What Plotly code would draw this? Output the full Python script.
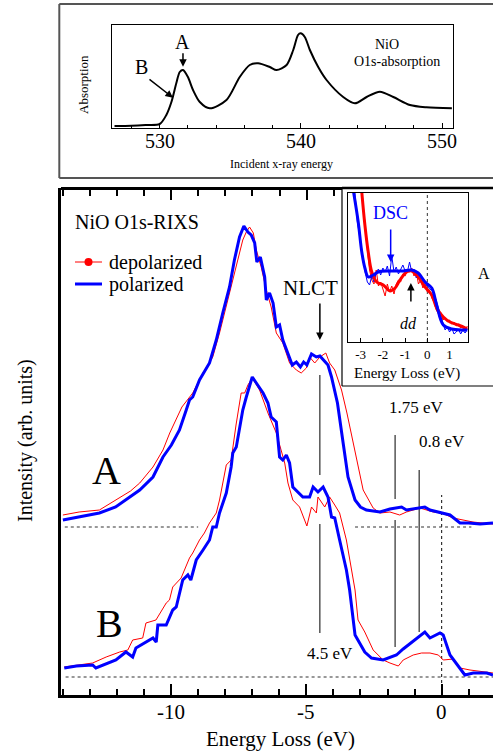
import plotly.graph_objects as go

W, H = 493, 753
FONT = "Liberation Serif"

def px(x):
    return x / W

def py(y):
    return 1 - y / H

# ---------------- data: O1s absorption (top panel) ----------------
abs_energy = [526.8, 528.0, 529.0, 530.0, 530.47, 530.83, 531.18, 531.42, 531.65, 532.0,
              532.36, 532.84, 533.55, 534.73, 535.67, 536.38, 536.97, 537.8, 538.28, 538.99,
              539.46, 539.8, 539.98, 540.28, 540.64, 541.23, 541.82, 543.0, 543.83, 544.66,
              545.6, 546.55, 547.73, 548.9, 550.7]
abs_signal = [2, 2.3, 3, 4, 13, 26, 45, 56, 58, 51,
              38, 26, 19.7, 28, 51, 63, 64.7, 61, 58, 63,
              78, 93, 94.7, 91, 78, 61, 48, 31, 24.7, 31,
              36.3, 31, 23, 20.7, 19.7]
abs_tick_vals = [530, 540, 550]
abs_tick_text = ["530", "540", "550"]

# ---------------- data: RIXS spectrum A ----------------
A_pol_x = [-14.0, -13.4, -12.65, -12.05, -11.6, -11.16, -10.67, -10.3, -9.99, -9.69,
           -9.44, -9.32, -9.2, -8.95, -8.58, -8.33, -8.09, -7.84, -7.66, -7.47,
           -7.31, -7.16, -7.04, -6.91, -6.83, -6.70, -6.54, -6.48, -6.36, -6.23,
           -6.11, -5.99, -5.87, -5.68, -5.52, -5.37, -5.22, -5.1, -4.98, -4.81,
           -4.63, -4.5, -4.38, -4.2, -4.07, -3.95, -3.85, -3.64, -3.46, -3.2,
           -3.0, -2.78, -2.28, -1.91, -1.67, -1.48, -1.3, -0.8, -0.62, -0.43,
           0.0, 0.31, 0.68, 1.0, 1.42, 1.9]
A_pol_y = [175, 178, 182, 188, 197, 205, 218, 238, 250, 265,
           285, 295, 298, 315, 332, 355, 382, 408, 435, 458,
           469, 463, 460, 452, 433, 438, 418, 395, 402, 392,
           368, 370, 355, 342, 330, 333, 328, 333, 330, 341,
           338, 339, 335, 330, 318, 305, 292, 252, 218, 195,
           188, 185, 183, 186, 187, 188, 185, 187, 188, 185,
           182, 180, 172, 172, 171, 172]
A_dep_x = [-14.0, -13.4, -12.65, -11.9, -11.5, -11.16, -10.67, -10.3, -10.05, -9.6,
           -9.32, -9.2, -8.82, -8.46, -8.21, -7.84, -7.59, -7.35, -7.22, -7.1,
           -6.96, -6.85, -6.67, -6.48, -6.3, -6.11, -5.87, -5.62, -5.37, -5.19,
           -5.0, -4.88, -4.69, -4.5, -4.28, -4.14, -3.95, -3.83, -3.7, -3.5,
           -3.2, -2.9, -2.53, -2.28, -1.91, -1.55, -1.3, -0.8, -0.31, 0.0,
           0.43, 0.8, 1.16, 1.5, 1.9]
A_dep_y = [180, 183, 185, 197, 204, 212, 228, 245, 262, 288,
           298, 302, 322, 338, 362, 402, 428, 455, 463, 468,
           462, 445, 428, 405, 388, 362, 352, 332, 325, 322,
           327, 338, 332, 338, 342, 332, 325, 315, 305, 282,
           242, 205, 187, 182, 183, 180, 183, 187, 183, 182,
           177, 175, 173, 172, 171]

# ---------------- data: RIXS spectrum B ----------------
B_pol_x = [-13.95, -13.5, -12.9, -12.78, -12.04, -11.67, -11.42, -11.3, -10.67, -10.55,
           -10.49, -10.18, -9.94, -9.81, -9.57, -9.38, -9.27, -9.07, -8.82, -8.58,
           -8.46, -8.33, -8.21, -7.96, -7.78, -7.72, -7.59, -7.47, -7.35, -7.22,
           -7.0, -6.85, -6.6, -6.42, -6.3, -6.11, -5.99, -5.87, -5.74, -5.62,
           -5.5, -5.13, -4.88, -4.75, -4.57, -4.38, -4.2, -4.07, -3.95, -3.77,
           -3.52, -3.4, -3.2, -2.84, -2.59, -2.16, -1.67, -1.42, -0.93, -0.62,
           -0.43, -0.06, 0.06, 0.31, 0.86, 1.17, 1.67, 1.9]
B_pol_y = [27, 29, 30, 27, 35, 43, 38, 47, 57, 53,
           70, 70, 85, 88, 115, 120, 115, 135, 145, 155,
           168, 168, 182, 202, 228, 242, 248, 268, 285, 298,
           318, 312, 302, 292, 278, 273, 238, 235, 240, 232,
           208, 198, 198, 208, 203, 208, 198, 178, 177, 155,
           125, 105, 60, 43, 37, 35, 40, 46, 57, 63,
           57, 62, 60, 40, 20, 22, 22, 20]
B_dep_x = [-13.95, -12.9, -12.4, -11.9, -11.6, -11.42, -11.05, -10.93, -10.56, -10.18,
           -10.06, -9.94, -9.63, -9.32, -9.2, -8.95, -8.77, -8.58, -8.33, -8.21,
           -7.96, -7.78, -7.6, -7.41, -7.28, -7.16, -7.0, -6.73, -6.42, -6.11,
           -5.8, -5.68, -5.5, -5.25, -4.98, -4.81, -4.63, -4.57, -4.32, -4.14,
           -3.95, -3.77, -3.52, -3.4, -3.2, -3.09, -2.84, -2.53, -2.16, -1.91,
           -1.6, -1.42, -1.05, -0.74, -0.43, -0.12, 0.06, 0.43, 0.68, 1.05,
           1.67, 1.9]
B_dep_y = [28, 32, 38, 43, 45, 55, 57, 72, 75, 92,
           95, 108, 117, 137, 142, 155, 162, 172, 182, 195,
           230, 235, 270, 302, 302, 310, 317, 305, 282, 262,
           232, 212, 195, 188, 169, 188, 182, 198, 188, 198,
           190, 182, 155, 135, 105, 75, 63, 45, 35, 32,
           29, 35, 40, 42, 42, 40, 35, 36, 27, 25,
           23, 22]

# main-axis tick labels
main_tick_vals = [-10, -5, 0]
main_tick_text = ["-10", "-5", "0"]

# baselines and feature markers (main panel)
baseA_level = 168
baseA_left = [-13.93, -9.0]
baseA_right = [-3.2, 1.1]
baseB_level = 18
baseB_span = [-13.9, 1.9]
zero_line_y = [12, 200]
feature_x = [-4.5, -1.72, -0.83]
feature_upper = [[320, 220], [260, 196], [225, 63]]
feature_lower = [[171, 62], [175, 48], None]

# ---------------- data: inset (zoom on low energy loss) ----------------
ins_pol_x = [-3.32, -3.11, -2.95, -2.81, -2.66, -2.43, -2.21, -1.68, -1.15, -0.70,
             -0.41, -0.10, 0.20, 0.42, 0.72, 1.10, 1.62, 1.8]
ins_pol_y = [150, 120, 90, 74, 65, 67, 70, 71, 71, 72,
             69, 60, 54, 37, 17, 13, 12, 12]
ins_dep_x = [-2.95, -2.81, -2.66, -2.5, -2.28, -1.98, -1.68, -1.45, -1.23, -0.93,
             -0.70, -0.41, -0.10, 0.20, 0.42, 0.72, 1.02, 1.40, 1.80]
ins_dep_y = [150, 117, 90, 70, 60, 57, 51, 54, 62, 70,
             71, 65, 55, 47, 34, 25, 20, 17, 13]
ins_pol_raw_x = [-3.3, -3.15, -3.0, -2.9, -2.8, -2.7, -2.6, -2.5, -2.4, -2.3,
                 -2.2, -2.1, -2.0, -1.9, -1.8, -1.7, -1.6, -1.5, -1.4, -1.3,
                 -1.2, -1.1, -1.0, -0.9, -0.8, -0.7, -0.6, -0.5, -0.4, -0.3,
                 -0.2, -0.1, 0.0, 0.1, 0.2, 0.3, 0.4, 0.5, 0.6, 0.7,
                 0.8, 0.9, 1.0, 1.1, 1.2, 1.3, 1.4, 1.5, 1.6, 1.7, 1.8]
ins_pol_raw_y = [160, 120, 100, 84, 70, 60, 57, 66, 60, 70,
                 73, 67, 74, 70, 76, 66, 86, 70, 75, 68,
                 72, 77, 71, 70, 80, 70, 73, 64, 68, 60,
                 62, 56, 57, 53, 52, 46, 42, 33, 26, 19,
                 12, 15, 10, 14, 8, 10, 13, 8, 12, 9, 13]
ins_dep_raw_x = [-3.0, -2.9, -2.8, -2.7, -2.6, -2.5, -2.4, -2.3, -2.2, -2.1,
                 -2.0, -1.9, -1.8, -1.7, -1.6, -1.5, -1.4, -1.3, -1.2, -1.1,
                 -1.0, -0.9, -0.8, -0.7, -0.6, -0.5, -0.4, -0.3, -0.2, -0.1,
                 0.0, 0.1, 0.2, 0.3, 0.4, 0.5, 0.6, 0.7, 0.8, 0.9,
                 1.0, 1.1, 1.2, 1.3, 1.4, 1.5, 1.6, 1.7, 1.8]
ins_dep_raw_y = [160, 140, 118, 92, 72, 62, 58, 72, 56, 60,
                 54, 46, 58, 50, 56, 48, 58, 62, 60, 68,
                 66, 72, 70, 74, 66, 70, 58, 62, 54, 58,
                 50, 52, 44, 40, 32, 28, 30, 22, 24, 20,
                 22, 18, 20, 16, 18, 14, 16, 12, 16]

legend_labels = ["depolarized", "polarized"]

RED = "#ff0000"
BLUE = "#0000ff"

fig = go.Figure()

# --- top panel: absorption ---
fig.add_trace(go.Scatter(x=abs_energy, y=abs_signal, mode="lines", xaxis="x2", yaxis="y2",
                         line=dict(color="black", width=2, shape="spline", smoothing=0.8),
                         showlegend=False, hoverinfo="skip"))

# --- main panel: baselines and markers ---
dot_style = dict(color="#333333", width=1.2, dash="dot")
fig.add_trace(go.Scatter(x=baseA_left + [None] + baseA_right + [None] + baseB_span,
                         y=[baseA_level] * 2 + [None] + [baseA_level] * 2 + [None] + [baseB_level] * 2,
                         mode="lines", line=dot_style, showlegend=False, hoverinfo="skip"))
fig.add_trace(go.Scatter(x=[0, 0], y=zero_line_y, mode="lines", line=dot_style,
                         showlegend=False, hoverinfo="skip"))
seg_x, seg_y = [], []
for fx, up, lo in zip(feature_x, feature_upper, feature_lower):
    for seg in (up, lo):
        if seg is None:
            continue
        seg_x += [fx, fx, None]
        seg_y += [seg[0], seg[1], None]
fig.add_trace(go.Scatter(x=seg_x, y=seg_y, mode="lines", line=dict(color="black", width=1),
                         showlegend=False, hoverinfo="skip"))

# --- main panel: spectra ---
for xs, ys in ((A_dep_x, A_dep_y), (B_dep_x, B_dep_y)):
    fig.add_trace(go.Scatter(x=xs, y=ys, mode="lines", line=dict(color=RED, width=1),
                             showlegend=False, hoverinfo="skip"))
for xs, ys in ((A_pol_x, A_pol_y), (B_pol_x, B_pol_y)):
    fig.add_trace(go.Scatter(x=xs, y=ys, mode="lines", line=dict(color=BLUE, width=3),
                             showlegend=False, hoverinfo="skip"))

# --- inset ---
fig.add_trace(go.Scatter(x=[0, 0], y=[0, 149], mode="lines", xaxis="x3", yaxis="y3",
                         line=dict(color="#333333", width=1, dash="dot"),
                         showlegend=False, hoverinfo="skip"))
fig.add_trace(go.Scatter(x=ins_dep_raw_x, y=ins_dep_raw_y, mode="lines", xaxis="x3", yaxis="y3",
                         line=dict(color=RED, width=1), showlegend=False, hoverinfo="skip"))
fig.add_trace(go.Scatter(x=ins_pol_raw_x, y=ins_pol_raw_y, mode="lines", xaxis="x3", yaxis="y3",
                         line=dict(color=BLUE, width=1), showlegend=False, hoverinfo="skip"))
fig.add_trace(go.Scatter(x=ins_dep_x, y=ins_dep_y, mode="lines", xaxis="x3", yaxis="y3",
                         line=dict(color=RED, width=3, shape="spline"), showlegend=False,
                         hoverinfo="skip"))
fig.add_trace(go.Scatter(x=ins_pol_x, y=ins_pol_y, mode="lines", xaxis="x3", yaxis="y3",
                         line=dict(color=BLUE, width=3, shape="spline"), showlegend=False,
                         hoverinfo="skip"))
# dummy trace so xaxis4 (top tick row of the main panel) is drawn
fig.add_trace(go.Scatter(x=[None], y=[None], xaxis="x4", yaxis="y", showlegend=False,
                         hoverinfo="skip"))

# ---------------- axes ----------------
fig.update_layout(
    width=W, height=H,
    margin=dict(l=0, r=0, t=0, b=0),
    paper_bgcolor="white", plot_bgcolor="rgba(0,0,0,0)",
    font=dict(family=FONT, color="black"),
    showlegend=False,
    hovermode=False,
    xaxis=dict(domain=[px(61), 1.0], range=[-14.07, 1.9], anchor="y",
               tickvals=main_tick_vals, showticklabels=False,
               ticks="inside", ticklen=11, tickwidth=2, tickcolor="black",
               minor=dict(dtick=1, tick0=0, ticks="inside", ticklen=6, tickwidth=2,
                          tickcolor="black", showgrid=False),
               showline=True, linewidth=2.5, linecolor="black", mirror=False,
               showgrid=False, zeroline=False),
    yaxis=dict(domain=[py(695), py(188)], range=[0, 507], anchor="x",
               showline=True, linewidth=2.5, linecolor="black", ticks="",
               showticklabels=False, showgrid=False, zeroline=False),
    xaxis4=dict(domain=[px(61), px(342)], range=[-14.07, (342 - 441.7) / 27],
                anchor="free", position=py(188), side="top",
                tickvals=[-10, -5], ticks="inside", ticklen=10, tickwidth=2,
                tickcolor="black", showticklabels=False,
                minor=dict(dtick=1, tick0=0, ticks="inside", ticklen=6, tickwidth=2,
                           tickcolor="black", showgrid=False),
                showline=True, linewidth=2.5, linecolor="black",
                showgrid=False, zeroline=False),
    xaxis2=dict(domain=[px(111.7), px(453.3)], range=[526.6, 550.8], anchor="y2",
                tickvals=abs_tick_vals, ticks="inside", ticklen=5, tickwidth=1,
                tickcolor="black", showticklabels=False,
                minor=dict(dtick=2, tick0=530, ticks="inside", ticklen=3, tickwidth=1,
                           tickcolor="black", showgrid=False),
                showline=True, linewidth=1.3, linecolor="black", mirror=True,
                showgrid=False, zeroline=False),
    yaxis2=dict(domain=[py(128), py(25)], range=[0, 103], anchor="x2",
                showline=True, linewidth=1.3, linecolor="black", mirror=True,
                ticks="", showticklabels=False, showgrid=False, zeroline=False),
    xaxis3=dict(domain=[px(348), px(468)], range=[-3.57, 1.83], anchor="y3",
                tickvals=[-3, -2, -1, 0, 1], ticktext=["-3", "-2", "-1", "0", "1"],
                ticks="inside", ticklen=4, tickwidth=1.2, tickcolor="black",
                showline=True, linewidth=1.2, linecolor="black", mirror=True,
                showgrid=False, zeroline=False, tickfont=dict(size=13)),
    yaxis3=dict(domain=[py(342), py(193)], range=[0, 149], anchor="x3",
                showline=True, linewidth=1.2, linecolor="black", mirror=True,
                ticks="", showticklabels=False, showgrid=False, zeroline=False),
)

# ---------------- frames, legend swatches (paper shapes) ----------------
line_gray = dict(color="#555555", width=2)
shapes = [
    dict(type="line", xref="paper", yref="paper", x0=px(59.3), x1=1.0, y0=py(4), y1=py(4), line=line_gray),
    dict(type="line", xref="paper", yref="paper", x0=px(59.3), x1=1.0, y0=py(178), y1=py(178), line=line_gray),
    dict(type="line", xref="paper", yref="paper", x0=px(59.3), x1=px(59.3), y0=py(4), y1=py(178), line=line_gray),
    dict(type="line", xref="paper", yref="paper", x0=px(342), x1=1.0, y0=py(188), y1=py(188),
         line=dict(color="black", width=2.5)),
    dict(type="line", xref="paper", yref="paper", x0=px(342), x1=px(342), y0=py(188), y1=py(386),
         line=dict(color="black", width=1.2)),
    dict(type="line", xref="paper", yref="paper", x0=px(342), x1=1.0, y0=py(386), y1=py(386),
         line=dict(color="black", width=1.2)),
    # legend swatches
    dict(type="line", xref="paper", yref="paper", x0=px(75), x1=px(102), y0=py(262), y1=py(262),
         line=dict(color=RED, width=1)),
    dict(type="circle", xref="paper", yref="paper", x0=px(84.5), x1=px(92.5), y0=py(266), y1=py(258),
         line=dict(color=RED, width=0), fillcolor=RED),
    dict(type="line", xref="paper", yref="paper", x0=px(75), x1=px(102), y0=py(284), y1=py(284),
         line=dict(color=BLUE, width=3)),
]
fig.update_layout(shapes=shapes)

# ---------------- annotations ----------------
ann = []

def ptext(x, y, text, size, **kw):
    d = dict(xref="paper", yref="paper", x=px(x), y=py(y), text=text, showarrow=False,
             font=dict(size=size, family=FONT, color=kw.pop("color", "black")),
             xanchor=kw.pop("xanchor", "center"), yanchor="middle")
    d.update(kw)
    ann.append(d)

def dtext(xr, yr, x, y, text, size, color="black"):
    ann.append(dict(xref=xr, yref=yr, x=x, y=y, text=text, showarrow=False,
                    font=dict(size=size, family=FONT, color=color),
                    xanchor="center", yanchor="middle"))

def arrow(xr, yr, x_head, y_head, x_tail, y_tail, color="black", width=1.5):
    ann.append(dict(xref=xr, yref=yr, axref=xr, ayref=yr, x=x_head, y=y_head,
                    ax=x_tail, ay=y_tail, text="", showarrow=True, arrowhead=2,
                    arrowsize=1, arrowwidth=width, arrowcolor=color))

# tick labels placed on the data scales
for tv, tt in zip(main_tick_vals, main_tick_text):
    ann.append(dict(xref="x", yref="paper", x=tv, y=py(712), text=tt, showarrow=False,
                    font=dict(size=21, family=FONT), xanchor="center", yanchor="middle"))
for tv, tt in zip(abs_tick_vals, abs_tick_text):
    ann.append(dict(xref="x2", yref="paper", x=tv, y=py(141), text=tt, showarrow=False,
                    font=dict(size=20, family=FONT), xanchor="center", yanchor="middle"))

# top panel
ptext(83, 85, "Absorption", 13, textangle=-90)
ptext(281.7, 164, "Incident x-ray energy", 12)
dtext("x2", "y2", 531.65, 86.3, "A", 20)
dtext("x2", "y2", 528.7, 61.3, "B", 20)
dtext("x2", "y2", 546.08, 83, "NiO", 14)
dtext("x2", "y2", 546.79, 66.3, "O1s-absorption", 14)
arrow("x2", "y2", 531.65, 61.3, 531.65, 76.3, width=1.5)
arrow("x2", "y2", 530.94, 30.3, 529.17, 49.7, width=1.5)

# main panel
ptext(25, 441, "Intensity (arb. units)", 20, textangle=-90)
ptext(280, 739, "Energy Loss (eV)", 21)
ptext(73, 222, "NiO O1s-RIXS", 20, xanchor="left")
ptext(107, 262, legend_labels[0], 20, xanchor="left")
ptext(107, 284, legend_labels[1], 20, xanchor="left")
dtext("x", "y", -12.4, 225, "A", 40)
dtext("x", "y", -12.28, 72, "B", 40)
dtext("x", "y", -4.86, 407, "NLCT", 21)
arrow("x", "y", -4.5, 355, -4.5, 393, width=1.5)
dtext("x", "y", -4.14, 42, "4.5 eV", 17)
dtext("x", "y", -0.91, 288, "1.75 eV", 17)
dtext("x", "y", 0.01, 254, "0.8 eV", 17)

# inset
ptext(407, 373, "Energy Loss (eV)", 15)
ptext(484, 273, "A", 16)
dtext("x3", "y3", -1.64, 129, "DSC", 18, color=BLUE)
arrow("x3", "y3", -1.65, 80, -1.65, 114, color=BLUE, width=1.5)
dtext("x3", "y3", -0.83, 19, "<i>dd</i>", 16)
arrow("x3", "y3", -0.74, 59, -0.74, 39, width=1.5)

fig.update_layout(annotations=ann)

fig.write_html("out.html", config={"displayModeBar": False},
               post_script="document.body.style.margin='0';document.body.style.padding='0';")
